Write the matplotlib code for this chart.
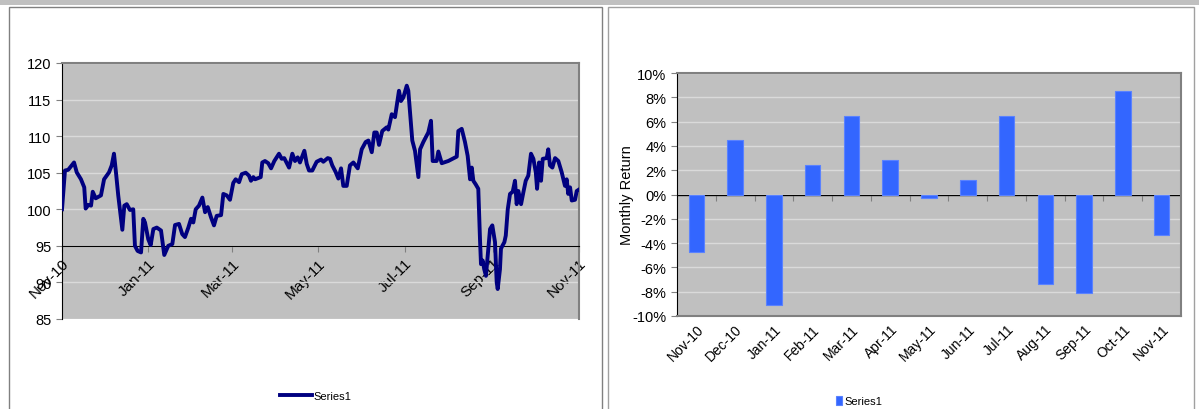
import numpy as np
import matplotlib
matplotlib.use("Agg")
from matplotlib import pyplot as plt
import matplotlib.dates as mdates
from matplotlib.patches import Rectangle
from matplotlib.ticker import FuncFormatter, MultipleLocator
from datetime import datetime, timedelta

plt.rcParams['font.family'] = ['Liberation Sans', 'DejaVu Sans']

# index level (days after start, value)
start = datetime(2010, 11, 1)
end = datetime(2011, 11, 1)
day_offset = [0, 2.1, 4.4, 8.5, 10.4, 13.4, 15.7, 16.7, 18.6, 20.5, 21.7, 23.8, 27.5, 29.7,
              33.2, 35.1, 36.7, 38.1, 39.7, 42.6, 44.0, 45.7, 48.0, 50.3, 51.5, 53.4, 55.8,
              57.4, 58.6, 60.9, 62.6, 64.5, 66.9, 69.9, 72.2, 75.0, 77.9, 79.8, 82.6, 84.9,
              86.8, 89.2, 91.1, 92.7, 94.4, 96.7, 99.1, 101.0, 102.9, 105.2, 107.3, 109.2,
              112.3, 113.9, 116.3, 118.6, 120.9, 122.6, 125.0, 126.9, 129.7, 132.0, 133.4,
              135.1, 136.3, 140.3, 141.4, 143.3, 145.6, 147.6, 149.9, 153.2, 155.1, 156.9,
              160.3, 162.6, 164.5, 166.4, 168.0, 171.1, 172.8, 174.4, 176.7, 179.8, 182.9,
              184.5, 187.6, 189.2, 190.8, 193.2, 195.1, 197.0, 198.6, 201.0, 203.3, 205.7,
              208.8, 211.6, 214.4, 216.3, 218.7, 220.5, 222.2, 223.8, 226.1, 229.2, 230.4,
              232.8, 235.1, 237.9, 239.3, 241.0, 243.4, 244.5, 247.3, 249.2, 251.6, 252.8,
              255.1, 258.6, 260.5, 261.7, 264.5, 265.7, 268.1, 272.7, 278.7, 279.8, 282.2,
              284.5, 286.4, 288.1, 289.3, 290.4, 292.1, 293.9, 295.1, 295.8, 297.0, 298.1,
              299.3, 300.5, 302.2, 303.8, 305.7, 306.9, 307.6, 309.2, 309.9, 310.9, 312.3,
              313.3, 314.7, 316.3, 318.2, 319.8, 321.0, 322.2, 324.1, 325.7, 327.4, 329.2,
              331.1, 332.8, 334.5, 335.4, 336.8, 338.2, 339.4, 342.2, 343.3, 344.5, 346.2,
              348.1, 350.4, 352.8, 355.1, 356.3, 357.4, 358.7, 359.9, 362.2, 363.4, 365.0]
level = [100.0, 105.3, 105.4, 106.4, 105.05, 104.1, 103.0, 100.1, 100.6, 100.5, 102.4, 101.5,
         101.9, 104.1, 105.05, 106.0, 107.6, 105.05, 101.9, 97.2, 100.5, 100.7, 99.9, 100.0,
         95.0, 94.3, 94.1, 98.7, 98.2, 95.9, 95.1, 97.3, 97.5, 97.1, 93.75, 95.0, 95.25,
         97.85, 98.0, 96.6, 96.2, 97.5, 98.7, 98.2, 100.0, 100.5, 101.6, 99.6, 100.3, 98.9,
         97.8, 99.1, 99.2, 102.1, 101.9, 101.3, 103.6, 104.1, 103.7, 104.8, 105.0, 104.6,
         103.9, 104.4, 104.1, 104.4, 106.4, 106.6, 106.3, 105.6, 106.6, 107.6, 106.9, 107.0,
         105.7, 107.6, 106.6, 107.1, 106.4, 108.0, 106.2, 105.3, 105.3, 106.5, 106.8, 106.5,
         107.0, 106.9, 106.0, 105.1, 104.2, 105.6, 103.2, 103.2, 106.0, 106.4, 105.6, 108.2,
         109.2, 109.4, 107.8, 110.5, 110.5, 108.8, 110.7, 111.2, 110.9, 113.0, 112.6, 116.2,
         114.8, 115.3, 116.9, 116.2, 109.4, 108.0, 104.4, 108.2, 109.2, 110.5, 112.1, 106.6,
         106.6, 107.9, 106.3, 106.6, 107.2, 110.7, 111.0, 109.2, 107.3, 104.1, 105.7, 103.9,
         103.4, 102.8, 95.9, 92.5, 93.0, 91.8, 90.9, 93.6, 97.3, 97.8, 95.5, 90.0, 89.1,
         91.8, 94.6, 95.0, 95.5, 96.4, 100.0, 102.1, 102.4, 103.9, 100.7, 102.5, 100.7,
         102.3, 103.9, 104.6, 107.6, 106.9, 105.05, 102.8, 106.4, 103.9, 106.9, 107.0, 108.2,
         106.0, 105.7, 107.0, 106.6, 105.05, 103.2, 104.1, 102.1, 103.0, 101.2, 101.3, 102.5,
         102.7]

# monthly returns, right chart
months = ['Nov-10', 'Dec-10', 'Jan-11', 'Feb-11', 'Mar-11', 'Apr-11', 'May-11',
          'Jun-11', 'Jul-11', 'Aug-11', 'Sep-11', 'Oct-11', 'Nov-11']
returns = [-0.047, 0.045, -0.091, 0.024, 0.065, 0.028, -0.003,
           0.012, 0.065, -0.074, -0.081, 0.085, -0.033]

W, H = 1199, 410
fig = plt.figure(figsize=(W / 100, H / 100), dpi=100)

def frac(x, y):
    return x / W, 1 - y / H

# top gray band and the two panel frames (behind the axes)
fig.patches.append(Rectangle((0, 1 - 6 / H), 1, 6 / H, transform=fig.transFigure,
                             facecolor='#c0c0c0', edgecolor='none', zorder=-5))
fig.patches.append(Rectangle(frac(9, 420), (602 - 9) / W, 412 / H, transform=fig.transFigure,
                             facecolor='white', edgecolor='#808080', lw=1, zorder=-5))
fig.patches.append(Rectangle(frac(608, 420), (1194 - 608) / W, 412 / H, transform=fig.transFigure,
                             facecolor='white', edgecolor='#a0a0a0', lw=1, zorder=-5))

grid_c = '#dadada'
face_c = '#c0c0c0'

# ---- left: index level ----
ax1 = fig.add_axes([62 / W, 1 - 320 / H, 517 / W, 256 / H])
dates = [start + timedelta(days=d) for d in day_offset]
ax1.set_facecolor(face_c)
ax1.plot(dates, level, color='#000080', lw=2.8, label='Series1', zorder=3)
ax1.set_xlim(start, end)
ax1.set_ylim(85, 120)
ax1.yaxis.set_major_locator(MultipleLocator(5))
ax1.grid(axis='y', color=grid_c, lw=1)
ax1.set_axisbelow(True)
ax1.xaxis.set_major_locator(mdates.MonthLocator(bymonth=[1, 3, 5, 7, 9, 11]))
ax1.xaxis.set_major_formatter(mdates.DateFormatter('%b-%y'))
ax1.spines['bottom'].set_position(('data', 95))
ax1.spines['bottom'].set_color('black')
ax1.spines['left'].set_color('black')
for s in ['top', 'right']:
    ax1.spines[s].set_color('#808080')
    ax1.spines[s].set_linewidth(1.5)
ax1.tick_params(axis='y', direction='out', length=4, color='#808080', labelsize=10.5)
ax1.tick_params(axis='x', direction='out', length=4, color='#808080', labelsize=11, pad=3)
for lab in ax1.get_xticklabels():
    lab.set_rotation(45)
    lab.set_ha('right')
    lab.set_va('top')
    lab.set_rotation_mode('anchor')
fig.legend(handles=ax1.get_lines(), loc='center', bbox_to_anchor=(316 / W, 1 - 397 / H),
           frameon=False, fontsize=8, handlelength=2.8, handletextpad=0.2)

# ---- right: monthly returns ----
ax2 = fig.add_axes([677 / W, 1 - 317 / H, 504 / W, 243 / H])
ax2.set_facecolor(face_c)
pos = np.arange(len(months))
bars = ax2.bar(pos, returns, width=0.4, color='#3366ff', edgecolor='#5a82ff', lw=0.8,
               label='Series1', zorder=3)
ax2.set_xlim(-0.5, len(months) - 0.5)
ax2.set_ylim(-0.10, 0.10)
ax2.yaxis.set_major_locator(MultipleLocator(0.02))
ax2.yaxis.set_major_formatter(FuncFormatter(lambda v, p: f'{int(round(v * 100))}%'))
ax2.grid(axis='y', color=grid_c, lw=1)
ax2.set_axisbelow(True)
ax2.axhline(0, color='black', lw=1, zorder=2)
ax2.set_xticks(pos)
ax2.set_xticklabels(months)
ax2.tick_params(axis='x', which='major', length=0, labelsize=10, pad=4)
ax2.tick_params(axis='y', direction='out', length=4, color='#808080', labelsize=10.5)
for lab in ax2.get_xticklabels():
    lab.set_rotation(45)
    lab.set_ha('right')
    lab.set_va('top')
    lab.set_rotation_mode('anchor')
# small tick marks on the zero line at the category boundaries
zero_axis = ax2.secondary_xaxis(0.5)
zero_axis.set_xticks(pos[:-1] + 0.5)
zero_axis.tick_params(axis='x', which='both', length=4, direction='out', color='#808080',
                      top=False, bottom=True, labeltop=False, labelbottom=False)
for sp in zero_axis.spines.values():
    sp.set_visible(False)
ax2.spines['bottom'].set_color('#808080')
ax2.spines['bottom'].set_linewidth(1.5)
ax2.spines['left'].set_color('black')
for s in ['top', 'right']:
    ax2.spines[s].set_color('#808080')
    ax2.spines[s].set_linewidth(1.5)
ax2.set_ylabel('Monthly Return', fontsize=10.5, labelpad=-1)
fig.legend(handles=[bars], loc='center', bbox_to_anchor=(859 / W, 1 - 402 / H),
           frameon=False, fontsize=8, handlelength=0.6, handleheight=0.9, handletextpad=0.2)

fig.savefig('out.png', dpi=100)
